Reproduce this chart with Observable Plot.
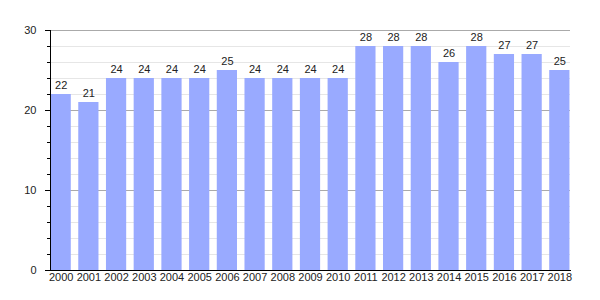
<!DOCTYPE html>
<html>
<head>
<meta charset="utf-8">
<script src="https://cdn.jsdelivr.net/npm/d3@7"></script>
<script src="https://cdn.jsdelivr.net/npm/@observablehq/plot@0.6"></script>
<style>
  html, body { margin: 0; padding: 0; background: #fff; }
</style>
</head>
<body>
<div id="chart"></div>
<script>
const years = ["2000","2001","2002","2003","2004","2005","2006","2007","2008","2009","2010","2011","2012","2013","2014","2015","2016","2017","2018"];
const values = [22,21,24,24,24,24,25,24,24,24,24,28,28,28,26,28,27,27,25];
const majorTicks = [0,10,20,30];
const minorTicks = [2,4,6,8,12,14,16,18,22,24,26,28];

const data = years.map((year, i) => ({year, value: values[i]}));

const chart = Plot.plot({
  width: 600,
  height: 300,
  marginLeft: 50,
  marginRight: 30,
  marginTop: 30,
  marginBottom: 30,
  style: {fontFamily: "Liberation Sans, Arial, sans-serif", fontSize: "11px", color: "#222", background: "#fff"},
  x: {type: "band", domain: years, paddingInner: 0.27, paddingOuter: 0.02, round: false, label: null},
  y: {domain: [0, 30], label: null},
  marks: [
    Plot.ruleY(minorTicks, {stroke: "#e6e6e6"}),
    Plot.ruleY([10, 20, 30], {stroke: "#aaaaaa"}),
    Plot.barY(data, {x: "year", y: "value", fill: "#99aaff"}),
    Plot.text(data, {x: "year", y: "value", text: d => String(d.value), dy: -9, fill: "#222", fontSize: 11}),
    Plot.axisY({ticks: majorTicks, tickSize: 5, tickPadding: 9, stroke: "#000", fill: "#222", label: null}),
    Plot.axisY({ticks: minorTicks, tickSize: 3, text: null, stroke: "#000", label: null}),
    Plot.axisX({tickSize: 0, tickPadding: 3, fill: "#222", label: null}),
    Plot.frame({anchor: "left", stroke: "#000"}),
    Plot.frame({anchor: "bottom", stroke: "#000"})
  ]
});
document.getElementById("chart").appendChild(chart);
</script>
</body>
</html>
